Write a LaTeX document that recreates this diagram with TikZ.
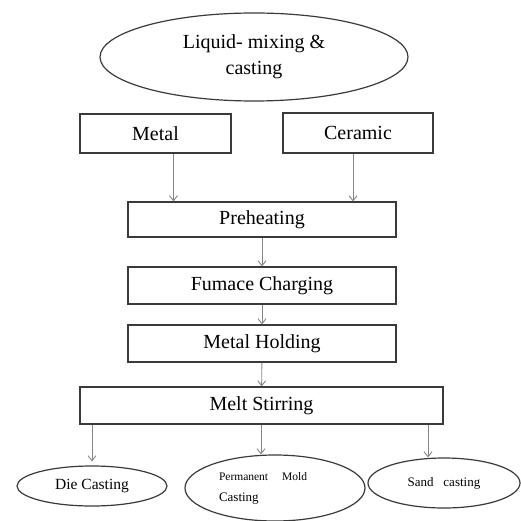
\documentclass[tikz,border=0pt]{standalone}
\usepackage{fontspec}
\setmainfont{Liberation Serif}
\usetikzlibrary{arrows.meta,shapes.geometric}
\definecolor{boxline}{HTML}{3A3A3A}
\definecolor{arrline}{HTML}{858585}
\tikzset{
  basic/.style  = {draw=boxline, line width=1.2pt, align=center, inner sep=0pt,
                   font=\fontsize{20}{23}\selectfont},
  stage/.style  = {basic, rectangle},
  oval/.style   = {basic, ellipse},
  flow/.style   = {->, draw=arrline, line width=0.9pt}
}

\begin{document}
\begin{tikzpicture}[x=1pt, y=-1pt, >={Straight Barb[length=5pt,width=8pt]}]
\useasboundingbox (0,0) rectangle (520,521);

% title of the process
\node[oval, minimum width=308pt, minimum height=88pt] (lmc) at (254,57)
  {Liquid- mixing \&\\[3pt]casting};

% the two raw materials
\node[stage, minimum width=151pt, minimum height=39pt] (metal) at (155.5,133.5) {Metal};
\node[stage, minimum width=150pt, minimum height=40pt] (ceramic) at (358,133) {Ceramic};

% main chain of steps
\node[stage, minimum width=268pt, minimum height=35pt] (preheat) at (262,219.5) {Preheating};
\node[stage, minimum width=268pt, minimum height=37pt] (charge) at (262,285.5) {Fumace Charging};
\node[stage, minimum width=268pt, minimum height=37pt] (hold) at (262,343.5) {Metal Holding};
\node[stage, minimum width=363pt, minimum height=37pt] (stir) at (261.5,405.5) {Melt Stirring};

% the casting routes
\node[oval, minimum width=150pt, minimum height=40pt, font=\fontsize{15.5}{18}\selectfont]
  (die) at (92,486) {Die Casting};
\node[oval, minimum width=180pt, minimum height=66pt, align=left, text width=112pt] (perm) at (275,488)
  {{\fontsize{11.5}{13}\selectfont Permanent\hspace{14pt}Mold}\\[-2pt]{\fontsize{13}{14}\selectfont Casting}};
\node[oval, minimum width=152pt, minimum height=50pt, font=\fontsize{13}{15}\selectfont]
  (sand) at (444,483) {Sand~~~casting};

% arrows between the steps
\draw[flow] ([xshift=18pt]metal.south) -- ([xshift=18pt]metal.south |- preheat.north);
\draw[flow] ([xshift=-5pt]ceramic.south) -- ([xshift=-5pt]ceramic.south |- preheat.north);
\draw[flow] (preheat) -- (charge);
\draw[flow] (charge) -- (hold);
\draw[flow] (hold) -- (stir);

% arrows to each casting route
\draw[flow] (stir.south -| die.north) -- ([yshift=4pt]die.north);
\draw[flow] ([xshift=-14pt]stir.south -| perm.north) -- ([xshift=-14pt]perm.north);
\draw[flow] ([xshift=-16pt]stir.south -| sand.north) -- ([xshift=-16pt]sand.north);
\end{tikzpicture}
\end{document}
